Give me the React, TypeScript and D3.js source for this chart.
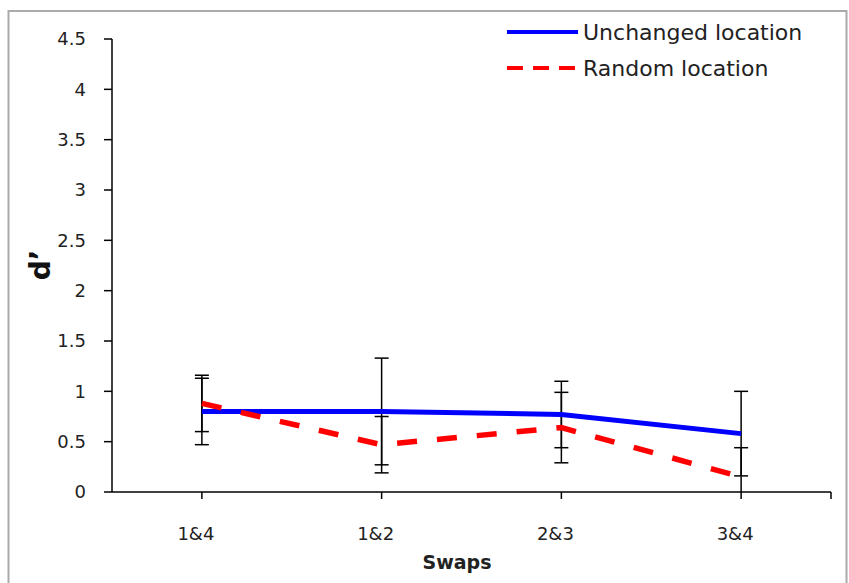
import React, { useEffect, useRef } from 'react';
import * as d3 from 'd3';

// categories on the x axis
const swaps = ['1&4', '1&2', '2&3', '3&4'];

// d' values
const unchanged = [0.80, 0.80, 0.77, 0.58];
const unchangedErr = [0.33, 0.53, 0.33, 0.42];
const random = [0.88, 0.47, 0.64, 0.15];
const randomErr = [0.28, 0.28, 0.35, 0.29];

const yTicks = [0, 0.5, 1, 1.5, 2, 2.5, 3, 3.5, 4, 4.5];

const FONT = '"DejaVu Sans", Verdana, sans-serif';

const App = () => {
   const svgRef = useRef<SVGSVGElement>(null);

   useEffect(() => {
      const svg = d3.select(svgRef.current);
      svg.selectAll('*').remove();

      const width = 849;
      const height = 583;
      const left = 112;
      const right = 831;
      const top = 39;
      const bottom = 492;

      // outer frame
      svg.append('rect')
         .attr('x', 8.5).attr('y', 11)
         .attr('width', 838).attr('height', 600)
         .attr('fill', '#fff')
         .attr('stroke', '#aaaaaa')
         .attr('stroke-width', 2);

      const x = d3.scaleBand().domain(swaps).range([left, right]);
      const y = d3.scaleLinear().domain([0, 4.5]).range([bottom, top]);
      const cx = (d: string) => (x(d) as number) + x.bandwidth() / 2;

      // y axis
      const yAxis = svg.append('g');
      yAxis.append('line')
         .attr('x1', left).attr('x2', left)
         .attr('y1', y(4.5)).attr('y2', y(0))
         .attr('stroke', '#000').attr('stroke-width', 1.5);
      yAxis.selectAll('.yt')
         .data(yTicks)
         .enter()
         .append('line')
         .attr('x1', left - 8).attr('x2', left)
         .attr('y1', d => y(d)).attr('y2', d => y(d))
         .attr('stroke', '#000').attr('stroke-width', 1.5);
      yAxis.selectAll('.yl')
         .data(yTicks)
         .enter()
         .append('text')
         .attr('x', left - 26)
         .attr('y', d => y(d))
         .attr('dy', '0.36em')
         .attr('text-anchor', 'end')
         .attr('font-family', FONT)
         .attr('font-size', 18)
         .attr('fill', '#222')
         .text(d => String(d));

      // x axis
      const xAxis = svg.append('g');
      xAxis.append('line')
         .attr('x1', left).attr('x2', right)
         .attr('y1', bottom).attr('y2', bottom)
         .attr('stroke', '#000').attr('stroke-width', 1.5);
      xAxis.selectAll('.xt')
         .data(swaps)
         .enter()
         .append('line')
         .attr('x1', d => cx(d)).attr('x2', d => cx(d))
         .attr('y1', bottom).attr('y2', bottom + 7)
         .attr('stroke', '#000').attr('stroke-width', 1.5);
      xAxis.append('line')
         .attr('x1', right).attr('x2', right)
         .attr('y1', bottom).attr('y2', bottom + 7)
         .attr('stroke', '#000').attr('stroke-width', 1.5);
      xAxis.selectAll('.xl')
         .data(swaps)
         .enter()
         .append('text')
         .attr('x', d => cx(d) - 6)
         .attr('y', bottom + 48)
         .attr('text-anchor', 'middle')
         .attr('font-family', FONT)
         .attr('font-size', 18)
         .attr('fill', '#222')
         .text(d => d);

      // axis titles
      svg.append('text')
         .attr('x', 457).attr('y', 569)
         .attr('text-anchor', 'middle')
         .attr('font-family', FONT)
         .attr('font-weight', 'bold')
         .attr('font-size', 19)
         .attr('fill', '#222')
         .text('Swaps');
      svg.append('text')
         .attr('transform', 'translate(50,265) rotate(-90)')
         .attr('text-anchor', 'middle')
         .attr('font-family', FONT)
         .attr('font-weight', 'bold')
         .attr('font-size', 28)
         .attr('fill', '#111')
         .text('d\u2019');

      // error bars, clipped at zero like the original
      const errBars = (vals: number[], errs: number[]) => {
         const g = svg.append('g');
         vals.forEach((v, i) => {
            const px = cx(swaps[i]);
            const hi = v + errs[i];
            const lo = Math.max(0, v - errs[i]);
            g.append('line')
               .attr('x1', px).attr('x2', px)
               .attr('y1', y(hi)).attr('y2', y(lo))
               .attr('stroke', '#000').attr('stroke-width', 1.5);
            g.append('line')
               .attr('x1', px - 7).attr('x2', px + 7)
               .attr('y1', y(hi)).attr('y2', y(hi))
               .attr('stroke', '#000').attr('stroke-width', 1.5);
            if (v - errs[i] > 0) {
               g.append('line')
                  .attr('x1', px - 7).attr('x2', px + 7)
                  .attr('y1', y(lo)).attr('y2', y(lo))
                  .attr('stroke', '#000').attr('stroke-width', 1.5);
            }
         });
      };
      errBars(unchanged, unchangedErr);
      errBars(random, randomErr);

      const line = d3.line<number>()
         .x((d, i) => cx(swaps[i]))
         .y(d => y(d));

      svg.append('path')
         .attr('d', line(unchanged))
         .attr('fill', 'none')
         .attr('stroke', '#0000ff')
         .attr('stroke-width', 5);

      svg.append('path')
         .attr('d', line(random))
         .attr('fill', 'none')
         .attr('stroke', '#ff0000')
         .attr('stroke-width', 5.5)
         .attr('stroke-dasharray', '20,20');

      // legend
      const legend = [
         { label: 'Unchanged location', color: '#0000ff', dash: null },
         { label: 'Random location', color: '#ff0000', dash: '16,10' }
      ];
      const lg = svg.append('g');
      legend.forEach((item, i) => {
         const ly = 32 + i * 36;
         lg.append('line')
            .attr('x1', 507).attr('x2', 578)
            .attr('y1', ly).attr('y2', ly)
            .attr('stroke', item.color)
            .attr('stroke-width', 4)
            .attr('stroke-dasharray', item.dash);
         lg.append('text')
            .attr('x', 583).attr('y', ly)
            .attr('dy', '0.36em')
            .attr('font-family', FONT)
            .attr('font-size', 22)
            .attr('fill', '#222')
            .text(item.label);
      });

      svg.attr('width', width).attr('height', height);
   }, []);

   return (
      <svg
         ref={svgRef}
         width={849}
         height={583}
         style={{ position: 'absolute', left: 0, top: 0, background: '#fff' }}
      />
   );
};

export default App;
